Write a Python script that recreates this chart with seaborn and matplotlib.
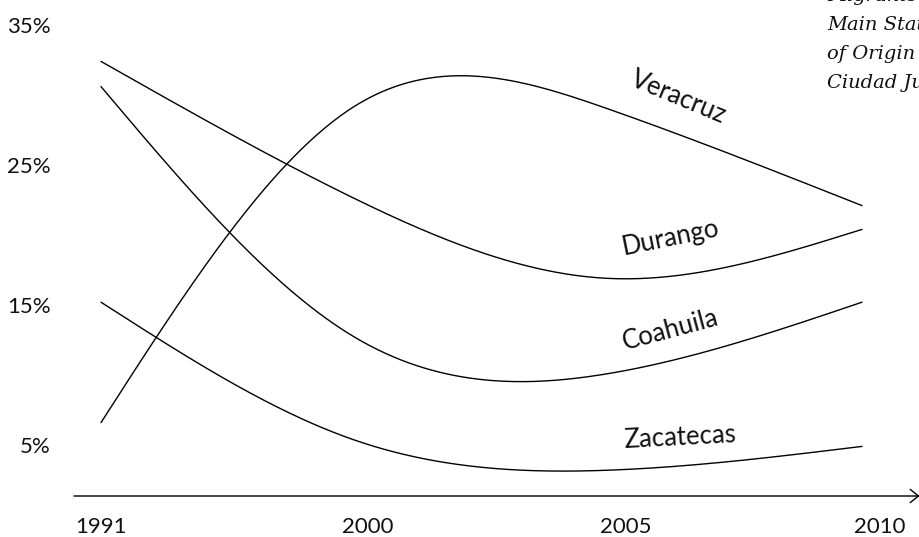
import numpy as np
import pandas as pd
import matplotlib
matplotlib.use("Agg")
import matplotlib.pyplot as plt
import seaborn as sns

# ---------------- data ----------------
years = ["1991", "2000", "2005", "2010"]
veracruz = [6.6, 29.2, 29.0, 22.1]
durango = [32.4, 22.6, 16.9, 20.4]
coahuila = [30.6, 12.7, 10.1, 15.2]
zacatecas = [15.2, 5.35, 3.2, 4.9]
series_names = ["Veracruz", "Durango", "Coahuila", "Zacatecas"]
y_ticks = [5, 15, 25, 35]
y_tick_labels = ["5%", "15%", "25%", "35%"]
note_lines = ["Migrants'", "Main States", "of Origin in", "Ciudad Juárez"]

series_values = [veracruz, durango, coahuila, zacatecas]

# ---------------- style ----------------
sns.set_theme(style="white")
plt.rcParams["font.family"] = ["Lato", "DejaVu Sans"]

W, H = 920, 537
fig = plt.figure(figsize=(W / 100, H / 100), dpi=100)
ax_left, ax_bottom = 74, 496
ax = fig.add_axes([ax_left / W, (H - ax_bottom) / H, (W - ax_left) / W, ax_bottom / H])

px_per_x = 253.67
px_per_pct = 14.0
x0_px = 101
xmin = -(x0_px - ax_left) / px_per_x
xmax = xmin + (W - ax_left) / px_per_x
ymax = 5 + 445 / px_per_pct
ymin = 5 - (ax_bottom - 445) / px_per_pct
ax.set_xlim(xmin, xmax)
ax.set_ylim(ymin, ymax)


def natural_spline(xs, ys, n=300):
    xs = np.asarray(xs, float)
    ys = np.asarray(ys, float)
    k = len(xs)
    h = np.diff(xs)
    A = np.zeros((k, k))
    b = np.zeros(k)
    A[0, 0] = 1
    A[-1, -1] = 1
    for i in range(1, k - 1):
        A[i, i - 1] = h[i - 1]
        A[i, i] = 2 * (h[i - 1] + h[i])
        A[i, i + 1] = h[i]
        b[i] = 6 * ((ys[i + 1] - ys[i]) / h[i] - (ys[i] - ys[i - 1]) / h[i - 1])
    M = np.linalg.solve(A, b)
    xx = np.linspace(xs[0], xs[-1], n)
    yy = np.empty_like(xx)
    for j, x in enumerate(xx):
        i = min(np.searchsorted(xs, x, side="right") - 1, k - 2)
        hi = h[i]
        a = (xs[i + 1] - x) / hi
        c = (x - xs[i]) / hi
        yy[j] = (a * ys[i] + c * ys[i + 1]
                 + ((a ** 3 - a) * M[i] + (c ** 3 - c) * M[i + 1]) * hi ** 2 / 6)
    return xx, yy


slots = np.arange(len(years))
frames = []
for name, vals in zip(series_names, series_values):
    xx, yy = natural_spline(slots, vals)
    frames.append(pd.DataFrame({"x": xx, "share": yy, "state": name}))
df = pd.concat(frames, ignore_index=True)

sns.lineplot(data=df, x="x", y="share", units="state", estimator=None,
             sort=False, color="black", linewidth=1.0, ax=ax, legend=False)

# ---------------- axes decoration ----------------
for s in ax.spines.values():
    s.set_visible(False)
ax.annotate("", xy=(0.9995, 0), xytext=(0, 0), xycoords="axes fraction",
            arrowprops=dict(arrowstyle="->,head_length=0.5,head_width=0.4",
                            lw=1.0, color="black", mutation_scale=12,
                            shrinkA=0, shrinkB=0), annotation_clip=False)

label_slots = [0.0, 1.05, 2.07, 3.07]
ax.set_xticks(label_slots)
ax.set_xticklabels(years)
ax.set_yticks(y_ticks)
ax.set_yticklabels(y_tick_labels)
ax.tick_params(axis="x", length=0, pad=15, labelsize=16, colors="#111111")
ax.tick_params(axis="y", length=0, pad=17, labelsize=16, colors="#111111")
ax.set_xlabel("")
ax.set_ylabel("")
ax.grid(False)


def to_data(px, py):
    return (px - x0_px) / px_per_x, 5 + (445 - py) / px_per_pct


label_specs = [
    ("Veracruz", 676, 104.5, -22.5),
    ("Durango", 672, 245, 11.5),
    ("Coahuila", 672, 337.5, 15),
    ("Zacatecas", 680, 445, 3),
]
for name, px, py, rot in label_specs:
    xd, yd = to_data(px, py)
    ax.text(xd, yd, name, rotation=rot, rotation_mode="anchor",
            ha="center", va="baseline", fontsize=18.5, color="#111111")

# ---------------- note (clipped at the right/top edge, as in the reference) ----------------
for i, line in enumerate(note_lines):
    fig.text(827 / W, 1 - (1 + 29 * i) / H, line, ha="left", va="baseline",
             fontsize=14, style="italic", family=["DejaVu Serif"],
             color="#111111")

fig.savefig("out.png", dpi=100)
